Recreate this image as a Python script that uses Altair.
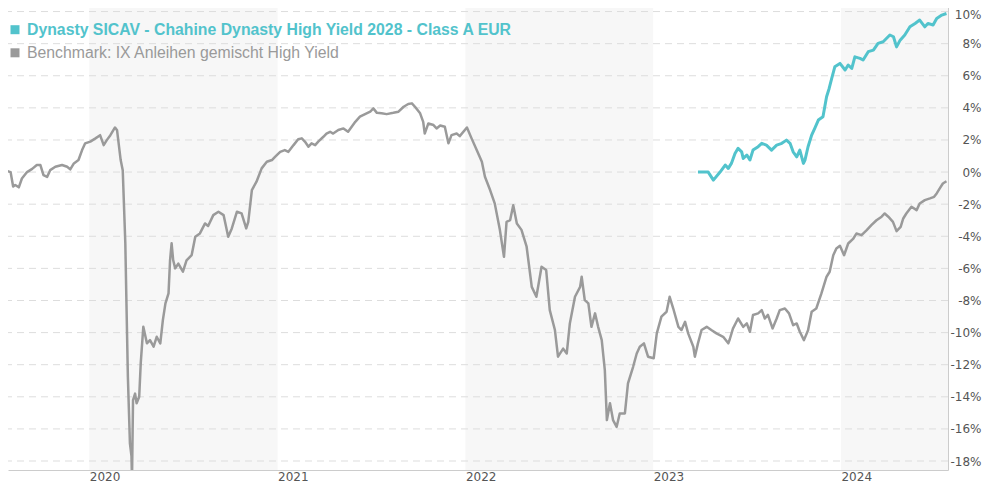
import altair as alt
import pandas as pd

# ---- data ----
bench_dates = [
    "2019-07-26", "2019-08-01", "2019-08-06", "2019-08-10", "2019-08-17", "2019-08-23",
    "2019-09-02", "2019-09-12", "2019-09-21", "2019-09-28", "2019-10-04", "2019-10-11",
    "2019-10-17", "2019-10-27", "2019-11-09", "2019-11-19", "2019-11-25", "2019-12-02",
    "2019-12-11", "2019-12-18", "2019-12-24", "2020-01-03", "2020-01-13", "2020-01-22",
    "2020-01-29", "2020-02-04", "2020-02-11", "2020-02-20", "2020-02-24", "2020-03-02",
    "2020-03-06", "2020-03-11", "2020-03-13", "2020-03-16", "2020-03-20", "2020-03-23",
    "2020-03-24", "2020-03-26", "2020-03-30", "2020-04-02", "2020-04-07", "2020-04-10",
    "2020-04-15", "2020-04-22", "2020-04-28", "2020-05-05", "2020-05-11", "2020-05-18",
    "2020-05-23", "2020-05-28", "2020-06-03", "2020-06-06", "2020-06-09", "2020-06-12",
    "2020-06-16", "2020-06-22", "2020-07-01", "2020-07-08", "2020-07-18", "2020-07-25",
    "2020-08-03", "2020-08-13", "2020-08-19", "2020-08-29", "2020-09-08", "2020-09-18",
    "2020-09-27", "2020-10-04", "2020-10-14", "2020-10-23", "2020-11-01", "2020-11-05",
    "2020-11-12", "2020-11-21", "2020-12-01", "2020-12-11", "2020-12-21", "2020-12-27",
    "2021-01-06", "2021-01-15", "2021-01-22", "2021-02-01", "2021-02-10", "2021-02-17",
    "2021-02-23", "2021-03-02", "2021-03-08", "2021-03-15", "2021-03-21", "2021-03-31",
    "2021-04-06", "2021-04-13", "2021-04-19", "2021-04-29", "2021-05-09", "2021-05-18",
    "2021-05-25", "2021-06-01", "2021-06-10", "2021-06-20", "2021-06-30", "2021-07-06",
    "2021-07-13", "2021-07-22", "2021-08-01", "2021-08-14", "2021-08-24", "2021-09-03",
    "2021-09-12", "2021-09-19", "2021-09-25", "2021-10-05", "2021-10-11", "2021-10-14",
    "2021-10-21", "2021-10-31", "2021-11-06", "2021-11-13", "2021-11-22", "2021-11-29",
    "2021-12-05", "2021-12-15", "2021-12-21", "2022-01-04", "2022-01-13", "2022-01-23",
    "2022-02-02", "2022-02-08", "2022-02-18", "2022-02-27", "2022-03-09", "2022-03-17",
    "2022-03-22", "2022-03-29", "2022-04-04", "2022-04-11", "2022-04-20", "2022-04-30",
    "2022-05-10", "2022-05-19", "2022-05-29", "2022-06-07", "2022-06-14", "2022-06-24",
    "2022-06-30", "2022-07-10", "2022-07-17", "2022-07-23", "2022-08-02", "2022-08-12",
    "2022-08-15", "2022-08-21", "2022-08-28", "2022-09-03", "2022-09-10", "2022-09-16",
    "2022-09-23", "2022-09-29", "2022-10-03", "2022-10-09", "2022-10-15", "2022-10-22",
    "2022-10-28", "2022-11-07", "2022-11-13", "2022-11-23", "2022-11-30", "2022-12-06",
    "2022-12-14", "2022-12-22", "2023-01-02", "2023-01-08", "2023-01-17", "2023-01-27",
    "2023-02-02", "2023-02-09", "2023-02-19", "2023-02-25", "2023-03-04", "2023-03-10",
    "2023-03-20", "2023-03-23", "2023-03-29", "2023-04-05", "2023-04-15", "2023-04-24",
    "2023-05-04", "2023-05-17", "2023-05-27", "2023-05-30", "2023-06-05", "2023-06-15",
    "2023-06-25", "2023-07-02", "2023-07-08", "2023-07-14", "2023-07-24", "2023-07-31",
    "2023-08-06", "2023-08-12", "2023-08-21", "2023-08-29", "2023-09-04", "2023-09-14",
    "2023-09-22", "2023-09-30", "2023-10-07", "2023-10-13", "2023-10-21", "2023-10-29",
    "2023-11-05", "2023-11-14", "2023-11-24", "2023-12-04", "2023-12-10", "2023-12-17",
    "2023-12-23", "2023-12-30", "2024-01-07", "2024-01-15", "2024-01-25", "2024-01-31",
    "2024-02-10", "2024-02-20", "2024-02-29", "2024-03-10", "2024-03-20", "2024-03-26",
    "2024-04-02", "2024-04-11", "2024-04-18", "2024-04-26", "2024-05-01", "2024-05-07",
    "2024-05-17", "2024-05-27", "2024-06-02", "2024-06-12", "2024-06-22", "2024-06-30",
    "2024-07-05", "2024-07-11", "2024-07-17", "2024-07-24",
]
bench_values = [
    0.06, 0.0, -0.9, -0.8, -0.95, -0.4,
    0.0, 0.2, 0.44, 0.44, -0.19, -0.3,
    0.12, 0.33, 0.44, 0.33, 0.17, 0.54,
    0.75, 1.37, 1.79, 1.9, 2.1, 2.3,
    1.68, 1.99, 2.3, 2.78, 2.6, 0.75,
    0.12, -4.4, -7.8, -12.75, -16.9, -17.7,
    -19.2, -14.2, -13.8, -14.4, -14.0, -11.9,
    -9.64, -10.67, -10.47, -10.88, -10.26, -10.67,
    -9.22, -8.18, -7.56, -5.48, -4.44, -5.48,
    -6.0, -5.7, -6.2, -5.5, -5.17, -4.03,
    -3.82, -3.2, -3.36, -2.68, -2.47, -2.68,
    -4.03, -3.51, -2.47, -2.57, -3.51, -3.1,
    -1.12, -0.6, 0.23, 0.64, 0.75, 0.95,
    1.26, 1.37, 1.26, 1.68, 2.04, 2.1,
    1.9, 1.58, 1.79, 1.68, 1.9, 2.2,
    2.4, 2.51, 2.4, 2.62, 2.72, 2.51,
    2.82, 3.13, 3.45, 3.61, 3.76, 3.97,
    3.69, 3.66, 3.61, 3.69, 3.76, 4.07,
    4.24, 4.28, 4.07, 3.66, 3.13, 2.4,
    3.03, 2.93, 2.72, 2.9, 2.82, 1.79,
    2.3, 2.4, 2.24, 2.78, 2.1, 1.37,
    0.64, -0.29, -1.12, -1.95, -3.6, -5.28,
    -3.1, -2.99, -2.06, -3.2, -3.6, -4.65,
    -7.15, -7.77, -5.9, -6.1, -8.6, -9.84,
    -11.5, -11.0, -11.3, -9.43, -7.77, -7.15,
    -6.52, -7.98, -8.18, -9.64, -8.8, -9.64,
    -10.47, -12.34, -15.45, -14.4, -15.45, -15.87,
    -15.04, -15.04, -13.17, -12.13, -11.3, -10.88,
    -10.67, -11.5, -11.6, -10.05, -9.0, -8.7,
    -7.77, -8.5, -9.64, -9.84, -9.33, -10.05,
    -10.88, -11.5, -10.67, -9.84, -9.64, -9.84,
    -10.05, -10.26, -10.67, -10.4, -9.75, -9.12,
    -9.64, -9.43, -9.95, -8.9, -8.8, -8.6,
    -9.12, -8.9, -9.74, -9.12, -8.6, -8.5,
    -8.8, -9.54, -9.43, -9.95, -10.47, -9.85,
    -8.7, -8.5, -7.56, -6.52, -6.21, -5.18,
    -4.76, -4.59, -5.18, -4.45, -4.14, -3.83,
    -3.93, -3.62, -3.31, -3.0, -2.78, -2.58,
    -2.78, -3.1, -3.68, -3.41, -2.89, -2.58,
    -2.16, -2.37, -1.96, -1.75, -1.64, -1.54,
    -1.33, -1.02, -0.71, -0.57,
]

fund_dates = [
    "2023-03-29", "2023-04-18", "2023-04-28", "2023-05-11", "2023-05-21", "2023-05-27",
    "2023-06-02", "2023-06-09", "2023-06-15", "2023-06-22", "2023-06-25", "2023-07-02",
    "2023-07-08", "2023-07-14", "2023-07-24", "2023-07-31", "2023-08-09", "2023-08-19",
    "2023-08-29", "2023-09-08", "2023-09-17", "2023-09-24", "2023-09-30", "2023-10-07",
    "2023-10-13", "2023-10-20", "2023-10-23", "2023-10-29", "2023-11-05", "2023-11-11",
    "2023-11-18", "2023-11-27", "2023-12-04", "2023-12-09", "2023-12-14", "2023-12-20",
    "2023-12-30", "2024-01-09", "2024-01-15", "2024-01-22", "2024-01-28", "2024-02-07",
    "2024-02-13", "2024-02-23", "2024-03-04", "2024-03-13", "2024-03-23", "2024-04-05",
    "2024-04-12", "2024-04-18", "2024-04-25", "2024-05-04", "2024-05-14", "2024-05-24",
    "2024-06-02", "2024-06-12", "2024-06-18", "2024-06-28", "2024-07-05", "2024-07-15",
    "2024-07-24",
]
fund_values = [
    0.0, 0.0, -0.5, 0.0, 0.44, 0.23,
    0.54, 1.16, 1.48, 1.26, 0.85, 1.06,
    0.75, 1.37, 1.58, 1.79, 1.68, 1.37,
    1.68, 1.79, 1.99, 1.79, 1.26, 0.95,
    1.37, 0.54, 0.75, 1.58, 2.3, 2.72,
    3.24, 3.45, 4.69, 5.21, 5.84, 6.56,
    6.77, 6.36, 6.67, 6.46, 7.18, 7.08,
    6.98, 7.5, 7.6, 8.02, 8.12, 8.54,
    8.43, 7.8, 8.22, 8.54, 9.05, 9.26,
    9.47, 9.05, 9.26, 9.16, 9.57, 9.78,
    9.88,
]

band_starts = ["2020-01-01", "2022-01-01", "2024-01-01"]
band_ends = ["2021-01-01", "2023-01-01", "2025-01-01"]
y_ticks = [-18, -16, -14, -12, -10, -8, -6, -4, -2, 0, 2, 4, 6, 8, 10]
year_ticks = [2020, 2021, 2022, 2023, 2024]
legend_names = [
    "Dynasty SICAV - Chahine Dynasty High Yield 2028 - Class A EUR",
    "Benchmark: IX Anleihen gemischt High Yield",
]

TEAL = "#52c3cc"
GREY = "#9a9a9a"

bench = pd.DataFrame({"date": bench_dates, "value": bench_values})
fund = pd.DataFrame({"date": fund_dates, "value": fund_values})
bands = pd.DataFrame({"start": band_starts, "end": band_ends})
grid = pd.DataFrame({"v": y_ticks})

x_scale = alt.Scale(
    type="utc",
    domain=[alt.DateTime(year=2019, month=7, date=27, utc=True),
            alt.DateTime(year=2024, month=7, date=27, utc=True)],
    nice=False,
)
y_scale = alt.Scale(domain=[-18.56, 10.72], nice=False, zero=False)

x_axis = alt.Axis(
    values=[alt.DateTime(year=y, month=1, date=1, utc=True) for y in year_ticks],
    format="%Y", labelAlign="left", labelBaseline="alphabetic", labelPadding=10,
    ticks=False, tickSize=0, grid=False, domainColor="#cccccc", labelFont="DejaVu Sans",
    labelFontSize=12, labelColor="#555555", labelFlush=False, labelOverlap=False,
    title=None,
)
y_axis = alt.Axis(
    orient="right", values=y_ticks, labelExpr="datum.value + '%'",
    ticks=False, tickSize=0, grid=False, domainColor="#cccccc", labelAlign="right",
    labelBaseline="middle", labelPadding=33, labelFont="DejaVu Sans",
    labelOffset={"condition": {"test": "datum.value == 10", "value": 3}, "value": 0},
    labelFontSize=12, labelColor="#555555", title=None,
)

band_layer = alt.Chart(bands).mark_rect(color="#f7f7f7", clip=True).encode(
    x=alt.X("start:T", scale=x_scale, axis=x_axis),
    x2="end:T",
)

grid_layer = alt.Chart(grid).mark_rule(color="#dddddd", strokeDash=[7, 5], strokeWidth=1).encode(
    y=alt.Y("v:Q", scale=y_scale, axis=y_axis),
)

bench_layer = alt.Chart(bench).mark_line(color=GREY, strokeWidth=2.5, strokeJoin="round", clip=True).encode(
    x=alt.X("date:T", scale=x_scale, axis=x_axis),
    y=alt.Y("value:Q", scale=y_scale, axis=y_axis),
)

fund_layer = alt.Chart(fund).mark_line(color=TEAL, strokeWidth=3, strokeJoin="round", clip=True).encode(
    x=alt.X("date:T", scale=x_scale, axis=x_axis),
    y=alt.Y("value:Q", scale=y_scale, axis=y_axis),
)

leg1 = pd.DataFrame({"name": [legend_names[0]]})
leg2 = pd.DataFrame({"name": [legend_names[1]]})

sq1 = alt.Chart(leg1).mark_square(size=81, color=TEAL, opacity=1).encode(
    x=alt.value(7), y=alt.value(29.7))
sq2 = alt.Chart(leg2).mark_square(size=81, color=GREY, opacity=1).encode(
    x=alt.value(7), y=alt.value(52.8))
txt1 = alt.Chart(leg1).mark_text(
    align="left", baseline="alphabetic", font="Liberation Sans", fontSize=15.8,
    fontWeight="bold", color=TEAL,
).encode(x=alt.value(19), y=alt.value(35), text="name:N")
txt2 = alt.Chart(leg2).mark_text(
    align="left", baseline="alphabetic", font="Liberation Sans", fontSize=15.8,
    color=GREY,
).encode(x=alt.value(19), y=alt.value(58.3), text="name:N")

chart = alt.layer(
    band_layer, grid_layer, bench_layer, fund_layer, sq1, sq2, txt1, txt2
).properties(
    width=940, height=470,
    padding={"left": 0, "top": -8, "right": 34, "bottom": 16},
    autosize=alt.AutoSizeParams(type="none"),
).configure_view(stroke=None)

chart.save("out.html", embed_options={"renderer": "svg", "actions": False})
